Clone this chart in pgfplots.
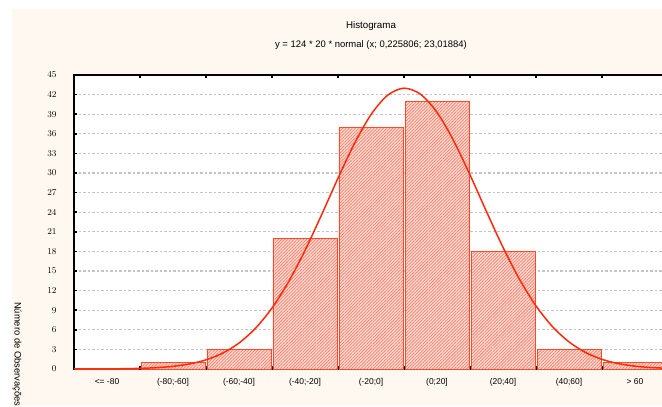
\documentclass[border=0pt]{standalone}
\usepackage{pgfplots}
\pgfplotsset{compat=1.18}
\usetikzlibrary{patterns.meta}
\usepackage{fontspec}
\setmainfont{Liberation Sans}
\definecolor{bgcream}{HTML}{FEF8F0}
\definecolor{barred}{HTML}{FF4A2A}
\definecolor{curvered}{HTML}{FF2A08}
\definecolor{gridgray}{HTML}{C4C4C4}

\begin{document}
\begin{tikzpicture}[x=1bp,y=1bp]
\useasboundingbox (0,0) rectangle (662,406);
\fill[white] (0,0) rectangle (662,406);
\fill[bgcream] (12,0) rectangle (662,397);
\node[font=\fontsize{9.8}{11}\selectfont] at (371,380) {Histograma};
\node[font=\fontsize{9.5}{11}\selectfont] at (371,361) {y = 124 * 20 * normal (x; 0,225806; 23,01884)};
\node[rotate=-90, anchor=west, inner sep=0pt, font=\fontsize{9.4}{11}\selectfont] at (17,104) {Número de Observações};
\begin{axis}[
  at={(74bp,37bp)}, anchor=south west,
  scale only axis, width=594bp, height=294bp,
  xmin=-100, xmax=80, ymin=0, ymax=45,
  ytick={0,3,...,45},
  xtick={-80,-60,...,60}, xticklabels={},
  extra x ticks={-90,-70,...,70},
  extra x tick labels={{<= -80},{(-80;-60]},{(-60;-40]},{(-40;-20]},{(-20;0]},{(0;20]},{(20;40]},{(40;60]},{> 60}},
  extra x tick style={major tick length=0pt, xticklabel style={yshift=-6bp}},
  tick align=inside, major tick length=3bp,
  tick style={black, line width=1.5bp},
  axis line style={black, line width=2bp},
  ymajorgrids, grid style={gridgray, line width=1.3bp, dash pattern=on 2.5bp off 2bp},
  axis background/.style={fill=white},
  xticklabel style={font=\fontsize{8.5}{10}\selectfont},
  yticklabel style={font=\fontsize{9.3}{10}\selectfont, xshift=-14bp},
]
\addplot[ybar, bar width=19.4, bar shift=0pt, draw=barred, line width=0.8bp, fill=barred!12,
  postaction={pattern={Lines[angle=45,distance=2.2bp,line width=0.9bp]}, pattern color=barred!70}]
  coordinates {(-90,0) (-70,1) (-50,3) (-30,20) (-10,37) (10,41) (30,18) (50,3) (70,1)};
\addplot[smooth, no marks, curvered, line width=1.5bp] coordinates {
  (-100,0.003) (-95,0.008) (-90,0.020) (-85,0.045) (-80,0.099) (-75,0.206)
  (-70,0.409) (-65,0.775) (-60,1.402) (-55,2.417) (-50,3.975) (-45,6.237)
  (-40,9.335) (-35,13.33) (-30,18.15) (-25,23.57) (-20,29.21) (-15,34.53)
  (-10,38.94) (-5,41.89) (0,42.98) (5,42.06) (10,39.28) (15,34.98)
  (20,29.72) (25,24.09) (30,18.62) (35,13.73) (40,9.66) (45,6.48)
  (50,4.15) (55,2.53) (60,1.476) (65,0.820) (70,0.435) (75,0.220) (80,0.106)};
\end{axis}
\end{tikzpicture}
\end{document}
